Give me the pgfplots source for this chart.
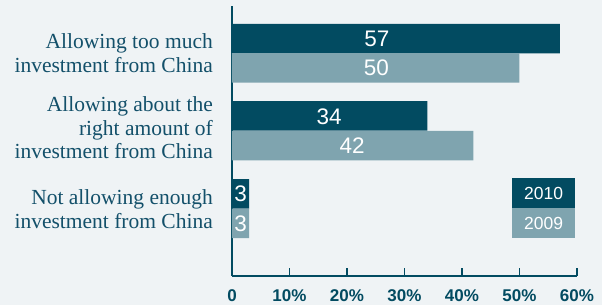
\documentclass[border=0pt]{standalone}
\usepackage{fontspec}
\setmainfont{Liberation Serif}
\newfontfamily\sansf{Liberation Sans}
\usepackage{pgfplots}
\pgfplotsset{compat=1.18}
\definecolor{dark}{HTML}{024B61}
\definecolor{light}{HTML}{7FA4AF}
\definecolor{bg}{HTML}{EFF3F5}
\definecolor{txt}{HTML}{13506A}
\begin{document}
\begin{tikzpicture}
\fill[bg] (-232pt,-29pt) rectangle (370pt,276pt);
\begin{axis}[
  at={(0pt,0pt)}, anchor=south west,
  scale only axis, width=345pt, height=270pt,
  xmin=0, xmax=60, ymin=-276, ymax=-6,
  axis x line*=bottom, axis y line*=left,
  axis line style={dark, line width=2pt},
  xtick={0,10,20,30,40,50,60},
  xticklabels={0,10\%,20\%,30\%,40\%,50\%,60\%},
  xtick align=inside, major tick length=8pt,
  xtick style={dark, line width=1.8pt},
  xticklabel style={font=\sansf\bfseries\fontsize{17}{17}\selectfont, text=dark, anchor=north, inner sep=0pt, text height=12.3pt, text depth=0pt, yshift=-13.5pt},
  ytick={-209.2,-127.7,-52.9},
  yticklabels={{Not allowing enough\\investment from China},{Allowing about the\\right amount of\\investment from China},{Allowing too much\\investment from China}},
  ytick style={draw=none},
  yticklabel style={font=\fontsize{21.5}{23.5}\selectfont, text=txt, align=right, anchor=east, inner sep=0pt, xshift=-19pt},
  clip=false,
]
\addplot[xbar, bar width=29.5pt, bar shift=0pt, fill=dark, draw=none] coordinates {(57,-38.7) (34,-116) (3,-193.8)};
\addplot[xbar, bar width=29.5pt, bar shift=0pt, fill=light, draw=none] coordinates {(50,-67.9) (42,-145.7) (3,-223.3)};
\addplot[only marks, mark=none, point meta=explicit symbolic, nodes near coords,
  nodes near coords style={anchor=center, font=\sansf\fontsize{22.5}{22.5}\selectfont, text=white, inner sep=0pt, text height=16.1pt, text depth=0pt}]
  coordinates {(25.2,-38.7)[57] (25.1,-67.9)[50] (16.9,-116)[34] (20.9,-145.7)[42] (1.5,-193.8)[3] (1.5,-223.3)[3]};
\node[fill=dark, minimum width=63pt, minimum height=30pt, inner sep=0pt, text=white, font=\sansf\fontsize{17.5}{17.5}\selectfont] at (axis cs:54.2,-193.3) {2010};
\node[fill=light, minimum width=63pt, minimum height=30pt, inner sep=0pt, text=white, font=\sansf\fontsize{17.5}{17.5}\selectfont] at (axis cs:54.2,-223.5) {2009};
\end{axis}
\pgfresetboundingbox
\useasboundingbox (-232pt,-29pt) rectangle (370pt,276pt);
\end{tikzpicture}
\end{document}
